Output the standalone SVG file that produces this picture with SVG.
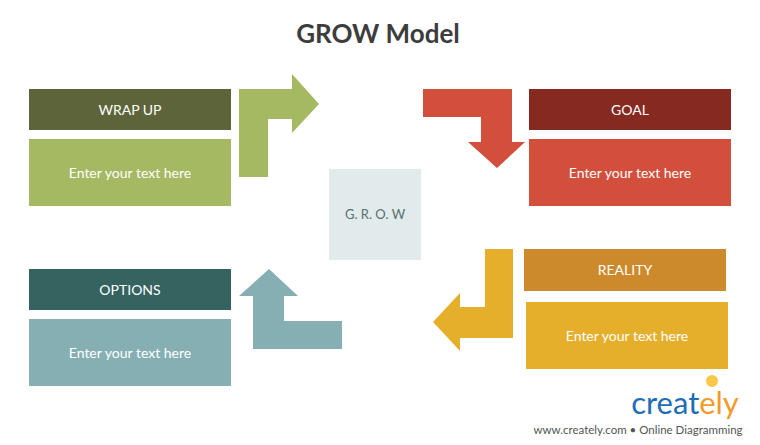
<svg xmlns="http://www.w3.org/2000/svg" width="760" height="445" viewBox="0 0 760 445">
<style>
text{font-family:Lato,"Liberation Sans",sans-serif;text-anchor:middle;dominant-baseline:central}
.h{fill:#fff;font-size:14px}
.b{fill:#fff;font-size:14px}
</style>
<rect width="760" height="445" fill="#fff"/>
<text x="378" y="33" font-size="26" font-weight="bold" fill="#3d3d3d">GROW Model</text>
<g id="connectors">
<polygon points="239,177 239,89 292,89 292,74 319,104 292,133 292,119 268,119 268,177" fill="#a5b862"/>
<polygon points="423,89 512,89 512,142 525,142 497,168 468,142 481,142 481,117 423,117" fill="#d24f3c"/>
<polygon points="513,249 513,338 460,338 460,351 433,322 460,293 460,307 485,307 485,249" fill="#e5af2c"/>
<polygon points="269,269 298,296 284,296 284,321 342,321 342,349 253,349 253,296 239,296" fill="#86afb4"/>
</g>
<g id="center"><rect x="329" y="169" width="92" height="91" fill="#e1ebec"/><text x="375" y="214" font-size="13" fill="#5a6e70">G. R. O. W</text></g>
<g id="wrapup"><rect x="29" y="89" width="202" height="41" fill="#5e6439"/><text class="h" x="130" y="109">WRAP UP</text>
<rect x="29" y="139" width="202" height="67" fill="#a5b862"/><text class="b" x="130" y="172">Enter your text here</text></g>
<g id="goal"><rect x="529" y="89" width="202" height="41" fill="#852921"/><text class="h" x="630" y="109">GOAL</text>
<rect x="529" y="139" width="202" height="67" fill="#d24f3c"/><text class="b" x="630" y="172">Enter your text here</text></g>
<g id="reality"><rect x="524" y="249" width="202" height="42" fill="#cc8a2c"/><text class="h" x="625" y="269">REALITY</text>
<rect x="526" y="302" width="202" height="67" fill="#e5af2c"/><text class="b" x="627" y="335">Enter your text here</text></g>
<g id="options"><rect x="29" y="269" width="202" height="41" fill="#346360"/><text class="h" x="130" y="289">OPTIONS</text>
<rect x="29" y="319" width="202" height="67" fill="#86afb4"/><text class="b" x="130" y="352">Enter your text here</text></g>
<g id="logo">
<text x="685" y="402" font-size="31" fill="#1f6db5">creat<tspan fill="#f39a2b">ely</tspan></text>
<circle cx="712" cy="381" r="6" fill="#f7c94a"/>
<text x="638" y="429" font-size="11.5" fill="#555">www.creately.com • Online Diagramming</text>
</g>
</svg>
